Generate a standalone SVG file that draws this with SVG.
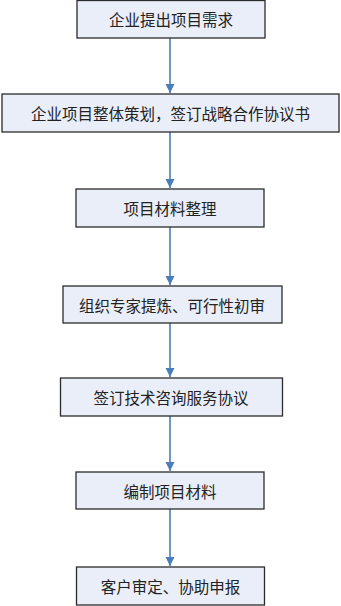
<svg xmlns="http://www.w3.org/2000/svg" width="341" height="606" viewBox="0 0 341 606">
<defs>
<style>
.box{fill:#e9eef8;stroke:#2b2b2b;stroke-width:1.3}
.lbl{font-family:"Noto Sans CJK SC","Noto Sans CJK JP",sans-serif;font-size:15.5px;fill:#222;text-anchor:middle;dominant-baseline:central}
.conn{stroke:#4a7ebb;stroke-width:1.6;fill:none;marker-end:url(#ah)}
</style>
<marker id="ah" markerWidth="10" markerHeight="10" refX="9" refY="5" orient="auto" markerUnits="userSpaceOnUse">
<path d="M0,0.5 L9,5 L0,9.5 Z" fill="#4a7ebb"/>
</marker>
</defs>
<rect width="341" height="606" fill="#ffffff"/>
<g id="connectors">
<line class="conn" x1="170" y1="38" x2="170" y2="93"/>
<line class="conn" x1="170" y1="132" x2="170" y2="188"/>
<line class="conn" x1="170" y1="227" x2="170" y2="285"/>
<line class="conn" x1="170" y1="323" x2="170" y2="377"/>
<line class="conn" x1="170" y1="416" x2="170" y2="471"/>
<line class="conn" x1="170" y1="509" x2="170" y2="566"/>
</g>
<g id="n1"><rect class="box" x="77" y="0.5" width="188" height="37.5"/><text class="lbl" x="171" y="19">企业提出项目需求</text></g>
<g id="n2"><rect class="box" x="2" y="94" width="337" height="38"/><text class="lbl" x="170.5" y="113">企业项目整体策划，签订战略合作协议书</text></g>
<g id="n3"><rect class="box" x="76" y="189" width="188" height="38"/><text class="lbl" x="170" y="208">项目材料整理</text></g>
<g id="n4"><rect class="box" x="63" y="286" width="219" height="37"/><text class="lbl" x="172" y="304.5">组织专家提炼、可行性初审</text></g>
<g id="n5"><rect class="box" x="60.5" y="378" width="222" height="38"/><text class="lbl" x="171" y="397">签订技术咨询服务协议</text></g>
<g id="n6"><rect class="box" x="76" y="472" width="188" height="37"/><text class="lbl" x="170" y="490.5">编制项目材料</text></g>
<g id="n7"><rect class="box" x="76.5" y="567" width="188" height="38"/><text class="lbl" x="170.5" y="586">客户审定、协助申报</text></g>
</svg>
